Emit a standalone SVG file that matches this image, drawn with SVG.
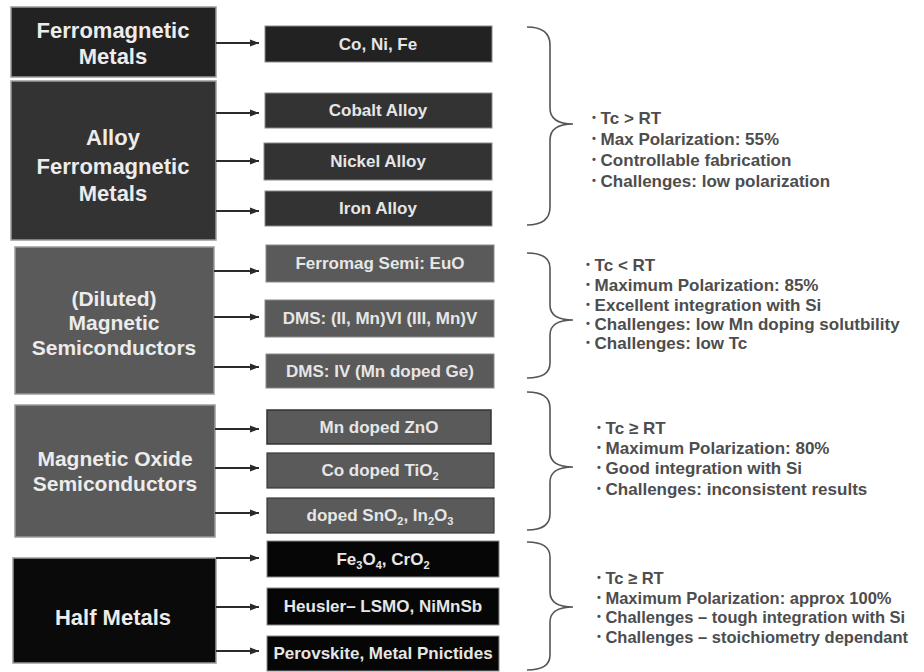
<svg xmlns="http://www.w3.org/2000/svg" width="924" height="672" viewBox="0 0 924 672">
<defs>
<marker id="ah" markerWidth="10" markerHeight="8" refX="9" refY="4" orient="auto" markerUnits="userSpaceOnUse">
<path d="M0,0.5 L9,4 L0,7.5 Z" fill="#2a2a2a"/>
</marker>
</defs>
<style>
.main{stroke:#9a9a9a;stroke-width:1.5}
.sub{stroke:#8a8a8a;stroke-width:1}
.mt{font-family:"Liberation Sans",Arial,sans-serif;font-weight:bold;font-size:22px;fill:#ececec;text-anchor:middle}
.mt21{font-size:21px}
.st{font-family:"Liberation Sans",Arial,sans-serif;font-weight:bold;font-size:17px;fill:#e6e6e6;text-anchor:middle}
.sb{font-size:11px}
.rt{font-family:"Liberation Sans",Arial,sans-serif;font-weight:bold;font-size:17px;fill:#4d4d4d}
.rt4{font-size:16.5px}
.bl{font-size:11px}
.conn line{stroke:#2a2a2a;stroke-width:2;marker-end:url(#ah)}
.brace{fill:none;stroke:#555;stroke-width:1.6}
</style>
<rect width="924" height="672" fill="#fff"/>

<g id="ferromagnetic-metals">
<rect class="main" x="11" y="7" width="205" height="70" fill="#222"/>
<text class="mt" x="113" y="38">Ferromagnetic</text>
<text class="mt" x="113" y="64">Metals</text>
</g>
<g id="alloy-ferromagnetic-metals">
<rect class="main" x="11" y="81" width="205" height="159" fill="#333"/>
<text class="mt" x="113" y="145">Alloy</text>
<text class="mt" x="113" y="174">Ferromagnetic</text>
<text class="mt" x="113" y="201">Metals</text>
</g>
<g id="diluted-magnetic-semiconductors">
<rect class="main" x="15" y="247" width="199" height="147" fill="#5a5a5a"/>
<text class="mt mt21" x="114" y="306">(Diluted)</text>
<text class="mt mt21" x="114" y="330">Magnetic</text>
<text class="mt mt21" x="114" y="355">Semiconductors</text>
</g>
<g id="magnetic-oxide-semiconductors">
<rect class="main" x="15" y="405" width="200" height="132" fill="#5a5a5a"/>
<text class="mt mt21" x="115" y="466">Magnetic Oxide</text>
<text class="mt mt21" x="115" y="491">Semiconductors</text>
</g>
<g id="half-metals">
<rect class="main" x="13" y="558" width="203" height="105" fill="#0a0a0a"/>
<text class="mt" x="113" y="625">Half Metals</text>
</g>

<g id="co-ni-fe"><rect class="sub" x="265" y="26" width="227" height="36" fill="#222"/><text class="st" x="378" y="50">Co, Ni, Fe</text></g>
<g id="cobalt-alloy"><rect class="sub" x="265" y="93" width="227" height="35" fill="#333"/><text class="st" x="378" y="116">Cobalt Alloy</text></g>
<g id="nickel-alloy"><rect class="sub" x="264" y="143" width="228" height="37" fill="#333"/><text class="st" x="378" y="167">Nickel Alloy</text></g>
<g id="iron-alloy"><rect class="sub" x="265" y="191" width="227" height="35" fill="#333"/><text class="st" x="378" y="214">Iron Alloy</text></g>
<g id="ferromag-semi-euo"><rect class="sub" x="266" y="245" width="228" height="37" fill="#5a5a5a"/><text class="st" x="380" y="269">Ferromag Semi: EuO</text></g>
<g id="dms-ii-vi"><rect class="sub" x="265" y="300" width="229" height="37" fill="#5a5a5a"/><text class="st" x="380" y="324">DMS: (II, Mn)VI (III, Mn)V</text></g>
<g id="dms-iv"><rect class="sub" x="266" y="354" width="228" height="34" fill="#5a5a5a"/><text class="st" x="380" y="377">DMS: IV (Mn doped Ge)</text></g>
<g id="mn-doped-zno"><rect x="267" y="410" width="224" height="34" fill="#5a5a5a" stroke="#333" stroke-width="1.5"/><text class="st" x="379" y="433">Mn doped ZnO</text></g>
<g id="co-doped-tio2"><rect x="267" y="453" width="227" height="35" fill="#5a5a5a" stroke="#3a3a3a" stroke-width="1.2"/><text class="st" x="380" y="476">Co doped TiO<tspan class="sb" dy="4">2</tspan></text></g>
<g id="doped-sno2-in2o3"><rect x="267" y="498" width="227" height="35" fill="#5a5a5a" stroke="#3a3a3a" stroke-width="1.2"/><text class="st" x="380" y="521">doped SnO<tspan class="sb" dy="4">2</tspan><tspan dy="-4">, In</tspan><tspan class="sb" dy="4">2</tspan><tspan dy="-4">O</tspan><tspan class="sb" dy="4">3</tspan></text></g>
<g id="fe3o4-cro2"><rect class="sub" x="267" y="541" width="232" height="36" fill="#060606"/><text class="st" x="383" y="565">Fe<tspan class="sb" dy="4">3</tspan><tspan dy="-4">O</tspan><tspan class="sb" dy="4">4</tspan><tspan dy="-4">, CrO</tspan><tspan class="sb" dy="4">2</tspan></text></g>
<g id="heusler"><rect class="sub" x="267" y="588" width="232" height="37" fill="#060606"/><text class="st" x="383" y="612">Heusler– LSMO, NiMnSb</text></g>
<g id="perovskite"><rect class="sub" x="267" y="636" width="232" height="35" fill="#060606"/><text class="st" x="383" y="659">Perovskite, Metal Pnictides</text></g>

<g id="connectors" class="conn">
<line x1="216" y1="43" x2="259" y2="43"/>
<line x1="216" y1="113" x2="259" y2="113"/>
<line x1="216" y1="161" x2="259" y2="161"/>
<line x1="216" y1="211" x2="259" y2="211"/>
<line x1="214" y1="271" x2="259" y2="271"/>
<line x1="214" y1="317" x2="259" y2="317"/>
<line x1="214" y1="367" x2="259" y2="367"/>
<line x1="215" y1="429" x2="259" y2="429"/>
<line x1="215" y1="468" x2="259" y2="468"/>
<line x1="215" y1="513" x2="259" y2="513"/>
<line x1="216" y1="558" x2="259" y2="558"/>
<line x1="216" y1="607" x2="259" y2="607"/>
<line x1="216" y1="651" x2="259" y2="651"/>
</g>

<g id="braces">
<path class="brace" d="M527,27 Q550,27 550,45 L550,108 Q550,124 573,124 Q550,124 550,140 L550,207 Q550,225 527,225"/>
<path class="brace" d="M527,253 Q550,253 550,268 L550,305 Q550,320 573,320 Q550,320 550,335 L550,363 Q550,378 527,378"/>
<path class="brace" d="M527,392 Q550,392 550,408 L550,452 Q550,467 573,467 Q550,467 550,482 L550,514 Q550,530 527,530"/>
<path class="brace" d="M527,542 Q550,542 550,557 L550,592 Q550,607 573,607 Q550,607 550,622 L550,655 Q550,670 527,670"/>
</g>

<g id="notes-1">
<text class="rt" x="592" y="124"><tspan class="bl" dy="-3">•</tspan><tspan dy="3"> Tc &gt; RT</tspan></text>
<text class="rt" x="592" y="145"><tspan class="bl" dy="-3">•</tspan><tspan dy="3"> Max Polarization: 55%</tspan></text>
<text class="rt" x="592" y="166"><tspan class="bl" dy="-3">•</tspan><tspan dy="3"> Controllable fabrication</tspan></text>
<text class="rt" x="592" y="187"><tspan class="bl" dy="-3">•</tspan><tspan dy="3"> Challenges: low polarization</tspan></text>
</g>
<g id="notes-2">
<text class="rt" x="586" y="271"><tspan class="bl" dy="-3">•</tspan><tspan dy="3"> Tc &lt; RT</tspan></text>
<text class="rt" x="586" y="291"><tspan class="bl" dy="-3">•</tspan><tspan dy="3"> Maximum Polarization: 85%</tspan></text>
<text class="rt" x="586" y="311"><tspan class="bl" dy="-3">•</tspan><tspan dy="3"> Excellent integration with Si</tspan></text>
<text class="rt" x="586" y="330"><tspan class="bl" dy="-3">•</tspan><tspan dy="3"> Challenges: low Mn doping solutbility</tspan></text>
<text class="rt" x="586" y="349"><tspan class="bl" dy="-3">•</tspan><tspan dy="3"> Challenges: low Tc</tspan></text>
</g>
<g id="notes-3">
<text class="rt" x="597" y="434"><tspan class="bl" dy="-3">•</tspan><tspan dy="3"> Tc ≥ RT</tspan></text>
<text class="rt" x="597" y="454"><tspan class="bl" dy="-3">•</tspan><tspan dy="3"> Maximum Polarization: 80%</tspan></text>
<text class="rt" x="597" y="474"><tspan class="bl" dy="-3">•</tspan><tspan dy="3"> Good integration with Si</tspan></text>
<text class="rt" x="597" y="495"><tspan class="bl" dy="-3">•</tspan><tspan dy="3"> Challenges: inconsistent results</tspan></text>
</g>
<g id="notes-4">
<text class="rt rt4" x="597" y="584"><tspan class="bl" dy="-3">•</tspan><tspan dy="3"> Tc ≥ RT</tspan></text>
<text class="rt rt4" x="597" y="604"><tspan class="bl" dy="-3">•</tspan><tspan dy="3"> Maximum Polarization: approx 100%</tspan></text>
<text class="rt rt4" x="597" y="623"><tspan class="bl" dy="-3">•</tspan><tspan dy="3"> Challenges – tough integration with Si</tspan></text>
<text class="rt rt4" x="597" y="643"><tspan class="bl" dy="-3">•</tspan><tspan dy="3"> Challenges – stoichiometry dependant</tspan></text>
</g>
</svg>
